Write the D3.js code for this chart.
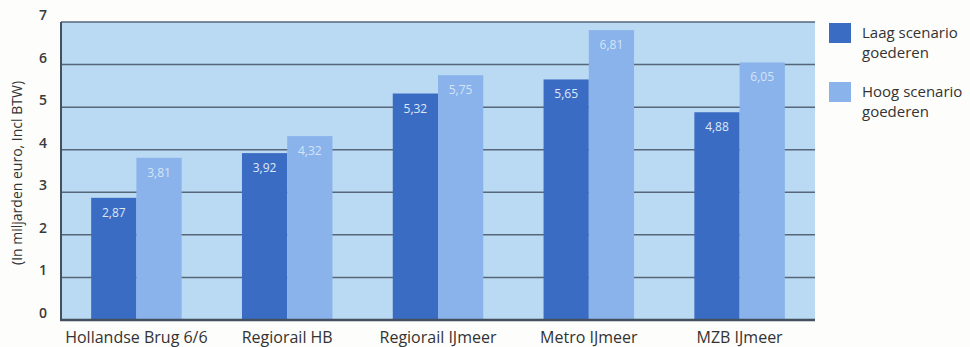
<!DOCTYPE html>
<html>
<head>
<meta charset="utf-8">
<script src="https://cdn.jsdelivr.net/npm/d3@7"></script>
<style>
  html, body { margin: 0; padding: 0; background: #fdfdfb; }
  svg { display: block; }
</style>
</head>
<body>
<svg id="chart" width="970" height="347"></svg>
<script>
const categories = ["Hollandse Brug 6/6", "Regiorail HB", "Regiorail IJmeer", "Metro IJmeer", "MZB IJmeer"];
const seriesNames = ["Laag scenario goederen", "Hoog scenario goederen"];
const laag = [2.87, 3.92, 5.32, 5.65, 4.88];
const hoog = [3.81, 4.32, 5.75, 6.81, 6.05];
const yTicks = [0, 1, 2, 3, 4, 5, 6, 7];
const yTitle = "(In miljarden euro, Incl BTW)";

const colors = ["#3b6cc3", "#89b3ea"];
const font = "'Open Sans', 'DejaVu Sans', sans-serif";

const svg = d3.select("#chart");
const m = { left: 61, right: 815, top: 22, bottom: 320 };

const x0 = d3.scaleBand().domain(categories).range([m.left, m.right]).paddingInner(0.4).paddingOuter(0.2);
const x1 = d3.scaleBand().domain([0, 1]).range([0, x0.bandwidth()]).padding(0);
const y = d3.scaleLinear().domain([0, 7]).range([m.bottom, m.top]);

// plot background
svg.append("rect")
  .attr("x", m.left).attr("y", m.top)
  .attr("width", m.right - m.left).attr("height", m.bottom - m.top)
  .attr("fill", "#bad9f2");

// gridlines
svg.append("g").selectAll("line").data(yTicks.filter(t => t > 0)).join("line")
  .attr("x1", m.left).attr("x2", m.right)
  .attr("y1", d => y(d)).attr("y2", d => y(d))
  .attr("stroke", "#56677a").attr("stroke-width", 1.5);

// bars
const data = categories.map((c, i) => ({ c, vals: [laag[i], hoog[i]] }));
const groups = svg.append("g").selectAll("g").data(data).join("g")
  .attr("transform", d => `translate(${x0(d.c)},0)`);
groups.selectAll("rect").data(d => d.vals.map((v, k) => ({ v, k }))).join("rect")
  .attr("x", d => x1(d.k))
  .attr("y", d => y(d.v))
  .attr("width", x1.bandwidth())
  .attr("height", d => y(0) - y(d.v))
  .attr("fill", d => colors[d.k]);
groups.selectAll("text").data(d => d.vals.map((v, k) => ({ v, k }))).join("text")
  .attr("x", d => x1(d.k) + x1.bandwidth() / 2)
  .attr("y", d => y(d.v) + 19)
  .attr("text-anchor", "middle")
  .attr("font-family", font).attr("font-size", 12)
  .attr("fill", d => d.k === 0 ? "#dfe8f7" : "#d5e4f8")
  .text(d => d.v.toFixed(2).replace(".", ","));

// frame: left and bottom axis lines
svg.append("line").attr("x1", m.left).attr("x2", m.left).attr("y1", m.top).attr("y2", m.bottom)
  .attr("stroke", "#45505e").attr("stroke-width", 2);
svg.append("line").attr("x1", m.left - 1).attr("x2", m.right).attr("y1", m.bottom).attr("y2", m.bottom)
  .attr("stroke", "#45505e").attr("stroke-width", 2.5);

// y axis labels
const yAxis = d3.axisLeft(y).tickValues(yTicks).tickSize(0).tickPadding(14).tickFormat(d3.format("d"));
const ya = svg.append("g").attr("transform", `translate(${m.left},0)`).call(yAxis);
ya.select(".domain").remove();
ya.selectAll("text").attr("y", -7).attr("font-family", font).attr("font-size", 14).attr("font-weight", 600).attr("fill", "#3a3a3a");

// x axis labels
const xAxis = d3.axisBottom(x0).tickSize(0).tickPadding(12);
const xa = svg.append("g").attr("transform", `translate(0,${m.bottom})`).call(xAxis);
xa.select(".domain").remove();
xa.selectAll("text").attr("font-family", font).attr("font-size", 16).attr("fill", "#333");

// y title
svg.append("text")
  .attr("transform", `translate(22,173) rotate(-90)`)
  .attr("text-anchor", "middle")
  .attr("font-family", font).attr("font-size", 14).attr("fill", "#333")
  .text(yTitle);

// legend
const legendLines = [["Laag scenario", "goederen"], ["Hoog scenario", "goederen"]];
const lg = svg.append("g").selectAll("g").data(seriesNames).join("g")
  .attr("transform", (d, i) => `translate(829,${23 + i * 59})`);
lg.append("rect").attr("width", 22).attr("height", 20).attr("fill", (d, i) => colors[i]);
lg.append("text")
  .attr("font-family", font).attr("font-size", 15).attr("fill", "#333")
  .selectAll("tspan").data((d, i) => legendLines[i]).join("tspan")
  .attr("x", 33).attr("y", (d, j) => 15 + j * 20)
  .text(d => d);
</script>
</body>
</html>
